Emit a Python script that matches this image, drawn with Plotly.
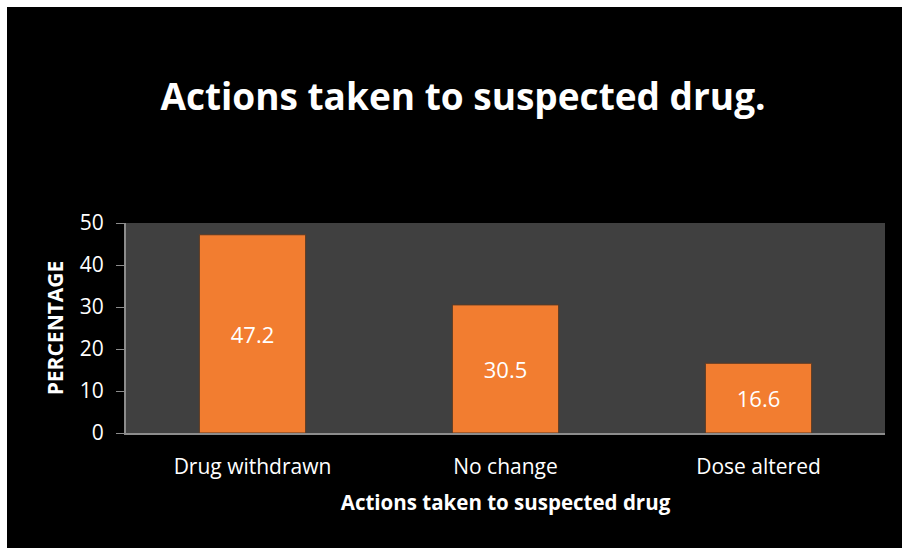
import plotly.graph_objects as go

categories = ["Drug withdrawn", "No change", "Dose altered"]
values = [47.2, 30.5, 16.6]
y_ticks = [0, 10, 20, 30, 40, 50]

fig = go.Figure()
fig.add_trace(go.Bar(
    x=categories, y=values,
    text=[f"{v:.1f}" for v in values],
    textposition="inside", insidetextanchor="middle",
    textfont=dict(color="white", size=22, family="Open Sans"),
    marker=dict(color="#F27D30", line=dict(color="#5a3a24", width=1)),
    hoverinfo="skip",
))

fig.update_layout(
    width=895, height=541,
    margin=dict(l=119, r=17, t=216, b=115),
    paper_bgcolor="black", plot_bgcolor="#404040",
    bargap=0.58, showlegend=False,
    font=dict(family="Open Sans", color="white"),
    title=dict(text="<b>Actions taken to suspected drug.</b>", x=0.5095, xanchor="center",
               y=1 - 90 / 541, yanchor="middle", font=dict(size=37, color="white", family="Open Sans")),
)
fig.update_xaxes(
    showline=True, linecolor="#8c8c8c", linewidth=2, showgrid=False,
    ticks="", ticklabelstandoff=14,
    tickfont=dict(size=21, color="white"),
    title=dict(text="<b>Actions taken to suspected drug</b>", font=dict(size=20.5, color="white"), standoff=16),
)
fig.update_yaxes(
    range=[0, 50], tickvals=y_ticks, showgrid=False, zeroline=False,
    showline=True, linecolor="#8c8c8c", linewidth=2,
    ticks="outside", ticklen=8, tickcolor="#8c8c8c", tickwidth=1, ticklabelstandoff=8,
    tickfont=dict(size=21, color="white"),
    title=dict(text="<b>PERCENTAGE</b>", font=dict(size=21, color="white"), standoff=10),
)

fig.write_html(
    "out.html",
    post_script="document.body.style.margin='7px 0 0 7px';document.body.style.overflow='hidden';",
)
